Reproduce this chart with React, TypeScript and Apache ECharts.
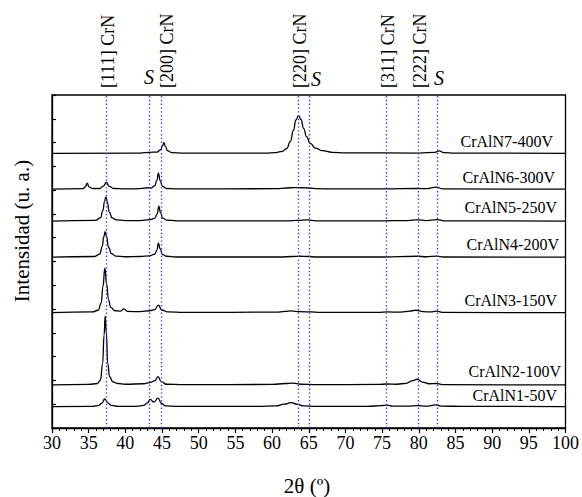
import React, { useEffect, useRef } from "react";
import * as echarts from "echarts";

// Sample names (bottom to top)
const sampleNames = [
  "CrAlN1-50V",
  "CrAlN2-100V",
  "CrAlN3-150V",
  "CrAlN4-200V",
  "CrAlN5-250V",
  "CrAlN6-300V",
  "CrAlN7-400V",
];

// Vertical offsets of each pattern (axis units)
const offsets = [0.9, 1.81, 4.85, 7.18, 8.7, 10.04, 11.55];

// Diffraction patterns: [2θ, intensity above baseline]
const pattern1: number[][] = [
  [30, 0], [35.5, 0.01], [36.4, 0.05], [36.8, 0.15], [37.2, 0.32], [37.6, 0.16], [38.1, 0.05], [39, 0.01],
  [41.5, 0.01], [42.5, 0.05], [43.0, 0.16], [43.4, 0.3], [43.9, 0.19], [44.45, 0.36], [44.9, 0.14], [45.5, 0.03],
  [47, 0.01], [58, 0.01], [60.5, 0.03], [61.7, 0.1], [62.6, 0.17], [63.4, 0.1], [64.3, 0.03], [66, 0.01],
  [73, 0.01], [74.8, 0.04], [75.6, 0.06], [76.5, 0.02], [78.5, 0.02], [79.8, 0.04], [81, 0.02], [82.3, 0.07],
  [83.2, 0.02], [86, 0.01], [100, 0],
];

const pattern2: number[][] = [
  [30, 0], [35, 0.02], [36.2, 0.06], [36.6, 0.2], [36.9, 0.9], [37.1, 2.1], [37.25, 2.9], [37.4, 2.2],
  [37.6, 0.9], [37.85, 0.35], [38.3, 0.13], [39, 0.06], [40, 0.03], [42.5, 0.05], [43.3, 0.1], [44.0, 0.17],
  [44.45, 0.35], [44.9, 0.14], [45.6, 0.03], [48, 0.01], [60, 0.02], [61.8, 0.06], [62.8, 0.08], [64, 0.03],
  [66, 0.01], [74.5, 0.02], [75.6, 0.04], [77, 0.03], [78.3, 0.07], [79.1, 0.17], [79.8, 0.24], [80.5, 0.12],
  [81.4, 0.05], [82.4, 0.06], [83.4, 0.01], [100, 0],
];

const pattern3: number[][] = [
  [30, 0], [35.5, 0.03], [36.3, 0.1], [36.7, 0.4], [36.95, 1.1], [37.2, 1.87], [37.45, 1.2], [37.7, 0.55],
  [38.0, 0.22], [38.6, 0.08], [39.3, 0.06], [39.8, 0.16], [40.3, 0.05], [42, 0.04], [43.3, 0.08], [44.0, 0.13],
  [44.5, 0.32], [44.95, 0.11], [45.8, 0.03], [48, 0.01], [60.5, 0.02], [61.8, 0.05], [62.6, 0.07], [63.8, 0.04],
  [65.3, 0.03], [66.5, 0.01], [74.5, 0.01], [75.7, 0.03], [77.5, 0.02], [78.8, 0.06], [79.6, 0.1], [80.6, 0.04],
  [81.6, 0.03], [82.4, 0.06], [83.4, 0.01], [100, 0],
];

const pattern4: number[][] = [
  [30, 0], [35.8, 0.03], [36.5, 0.13], [36.85, 0.45], [37.05, 0.85], [37.25, 1.08], [37.45, 0.85], [37.7, 0.42],
  [38.1, 0.15], [38.7, 0.05], [40, 0.02], [42, 0.03], [43.3, 0.06], [44.0, 0.13], [44.3, 0.3], [44.5, 0.59],
  [44.75, 0.35], [45.05, 0.12], [45.6, 0.04], [47, 0.01], [61, 0.01], [62.8, 0.03], [63.8, 0.04], [65, 0.03],
  [66, 0.01], [75, 0.01], [79.8, 0.04], [81, 0.02], [82.4, 0.05], [83.4, 0.01], [100, 0],
];

const pattern5: number[][] = [
  [30, 0], [35.9, 0.03], [36.6, 0.13], [36.95, 0.45], [37.15, 0.82], [37.35, 1.02], [37.55, 0.8], [37.8, 0.38],
  [38.2, 0.13], [38.8, 0.05], [40, 0.02], [42, 0.02], [43.3, 0.06], [44.0, 0.11], [44.35, 0.3], [44.55, 0.63],
  [44.8, 0.36], [45.1, 0.12], [45.6, 0.04], [47, 0.01], [62, 0.01], [63.5, 0.03], [64.8, 0.05], [66, 0.01],
  [75, 0.01], [78.5, 0.02], [79.8, 0.05], [81, 0.02], [82.5, 0.06], [83.5, 0.01], [100, 0],
];

const pattern6: number[][] = [
  [30, 0], [34.2, 0.02], [34.55, 0.1], [34.8, 0.25], [35.05, 0.1], [35.5, 0.03], [36.5, 0.03], [37.0, 0.13],
  [37.4, 0.29], [37.8, 0.12], [38.4, 0.03], [40, 0.01], [42, 0.02], [43.1, 0.06], [43.5, 0.05], [44.0, 0.14],
  [44.3, 0.38], [44.5, 0.67], [44.75, 0.36], [45.05, 0.12], [45.6, 0.03], [47, 0.01], [60.5, 0.02], [62, 0.05],
  [63.0, 0.07], [64, 0.06], [65, 0.05], [66.2, 0.02], [68, 0.01], [75, 0.01], [79.8, 0.03], [81, 0.02],
  [82.4, 0.09], [83.3, 0.01], [100, 0],
];

const pattern7: number[][] = [
  [30, 0], [42, 0.01], [43.3, 0.04], [44.3, 0.05], [44.8, 0.14], [45.05, 0.3], [45.25, 0.45], [45.45, 0.3],
  [45.75, 0.11], [46.3, 0.03], [48, 0.01], [59, 0.01], [60.5, 0.03], [61.4, 0.08], [62.0, 0.2], [62.5, 0.5],
  [62.9, 0.95], [63.25, 1.4], [63.6, 1.58], [63.95, 1.42], [64.3, 1.05], [64.7, 0.7], [65.2, 0.42], [65.9, 0.22],
  [66.8, 0.11], [68.2, 0.04], [70, 0.02], [80, 0.01], [82.2, 0.04], [82.8, 0.1], [83.4, 0.03], [85, 0.01],
  [100, 0],
];

const patterns = [pattern1, pattern2, pattern3, pattern4, pattern5, pattern6, pattern7];

// Reference reflection positions (2θ)
const refPositions = [37.4, 43.3, 44.9, 63.6, 65.1, 75.6, 79.9, 82.5];

// Axis ticks
const xMin = 30;
const xMax = 100;
const xInterval = 5;
const yMin = 0;
const yMax = 14;
const yInterval = 1;

const serif = "'Liberation Serif', 'Times New Roman', serif";

export default function App() {
  const ref = useRef<HTMLDivElement>(null);

  useEffect(() => {
    if (!ref.current) return;
    const chart = echarts.init(ref.current, undefined, { renderer: "svg" });

    const series: any[] = patterns.map((p, i) => ({
      name: sampleNames[i],
      type: "line",
      data: p.map(([x, y]) => [x, y + offsets[i]]),
      showSymbol: false,
      symbol: "none",
      smooth: 0.5,
      smoothMonotone: "x",
      lineStyle: { color: "#000", width: 1.3 },
      z: 3,
    }));

    series.push({
      type: "line",
      data: [],
      markLine: {
        silent: true,
        symbol: ["none", "none"],
        label: { show: false },
        lineStyle: { color: "#3b3bff", width: 1.4, type: [1.4, 2.4] },
        data: refPositions.map((v) => ({ xAxis: v })),
      },
      z: 2,
    });

    const topLabels = [
      { t: "[111] CrN", x: 108 },
      { t: "[200] CrN", x: 167 },
      { t: "[220] CrN", x: 300 },
      { t: "[311] CrN", x: 388 },
      { t: "[222] CrN", x: 420 },
    ];
    const sLabels = [
      { x: 149, y: 77 },
      { x: 316, y: 79 },
      { x: 439, y: 78 },
    ];
    const sampleLabelPos = [
      { x: 557, y: 395 },
      { x: 561, y: 371 },
      { x: 557, y: 300 },
      { x: 559, y: 244 },
      { x: 557, y: 207 },
      { x: 555, y: 177 },
      { x: 553, y: 141 },
    ];

    const graphic: any[] = [
      ...topLabels.map((l) => ({
        type: "text",
        x: l.x,
        y: 88,
        rotation: Math.PI / 2,
        style: {
          text: l.t,
          fontFamily: serif,
          fontSize: 18,
          fill: "#000",
          align: "left",
          verticalAlign: "middle",
        },
      })),
      ...sLabels.map((l) => ({
        type: "text",
        x: l.x,
        y: l.y,
        style: {
          text: "S",
          fontFamily: serif,
          fontStyle: "italic",
          fontSize: 20,
          fill: "#000",
          align: "center",
          verticalAlign: "middle",
        },
      })),
      ...sampleNames.map((n, i) => ({
        type: "text",
        x: sampleLabelPos[i].x,
        y: sampleLabelPos[i].y,
        style: {
          text: n,
          fontFamily: serif,
          fontSize: 16,
          fill: "#000",
          align: "right",
          verticalAlign: "middle",
        },
      })),
      {
        type: "text",
        x: 307,
        y: 486,
        style: {
          text: "2θ (º)",
          fontFamily: serif,
          fontSize: 21,
          fill: "#000",
          align: "center",
          verticalAlign: "middle",
        },
      },
      {
        type: "text",
        x: 22,
        y: 231,
        rotation: Math.PI / 2,
        style: {
          text: "Intensidad (u. a.)",
          fontFamily: serif,
          fontSize: 21,
          fill: "#000",
          align: "center",
          verticalAlign: "middle",
        },
      },
    ];

    chart.setOption({
      animation: false,
      backgroundColor: "#fff",
      grid: {
        left: 52,
        right: 14,
        top: 95,
        bottom: 69,
        show: true,
        borderColor: "#000",
        borderWidth: 1.3,
        backgroundColor: "transparent",
      },
      xAxis: {
        type: "value",
        min: xMin,
        max: xMax,
        interval: xInterval,
        axisLine: { show: true, lineStyle: { color: "#000", width: 1.3 } },
        axisTick: { show: true, inside: false, length: 5, lineStyle: { color: "#000", width: 1.2 } },
        minorTick: { show: true, splitNumber: 5, length: 3, lineStyle: { color: "#000", width: 1 } },
        splitLine: { show: false },
        axisLabel: { color: "#000", fontFamily: serif, fontSize: 18, margin: 6 },
      },
      yAxis: {
        type: "value",
        min: yMin,
        max: yMax,
        interval: yInterval,
        axisLine: { show: true, lineStyle: { color: "#000", width: 1.3 } },
        axisTick: { show: true, inside: true, length: 4, lineStyle: { color: "#000", width: 1.2 } },
        splitLine: { show: false },
        axisLabel: { show: false },
      },
      graphic,
      series,
    });

    return () => chart.dispose();
  }, []);

  return (
    <div
      ref={ref}
      style={{ position: "absolute", left: 0, top: 0, width: 582, height: 497 }}
    />
  );
}
